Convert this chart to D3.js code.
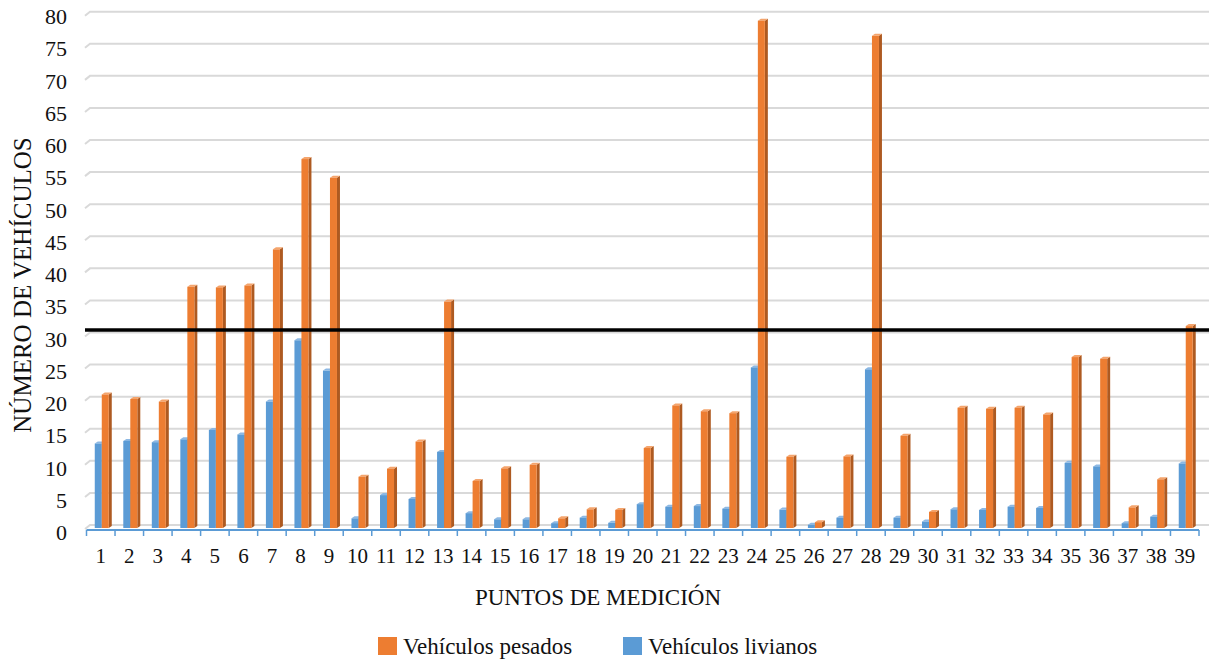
<!doctype html>
<html>
  <head>
    <script src="https://cdn.jsdelivr.net/npm/d3@7/dist/d3.min.js"></script>
    <style>
      body, html {
        margin: 0;
        background: #fff;
      }
      svg {
        display: block;
      }
    </style>
  </head>
  <body>
    <svg width="1209" height="664" font-family="Liberation Serif, Times New Roman, serif"></svg>
    <script>
      var puntos = d3.range(1, 40).map(String);
      var livianos = [13.1, 13.5, 13.3, 13.75, 15.2, 14.5, 19.6, 29.1, 24.4, 1.5,
                      5.1, 4.5, 11.8, 2.3, 1.35, 1.35, 0.75, 1.6, 0.8, 3.7,
                      3.3, 3.4, 3.0, 24.9, 2.85, 0.5, 1.6, 24.6, 1.6, 1.0,
                      2.9, 2.8, 3.3, 3.1, 10.1, 9.55, 0.75, 1.75, 10.0];
      var pesados = [20.7, 20.0, 19.6, 37.4, 37.3, 37.6, 43.2, 57.2, 54.3, 7.95,
                     9.2, 13.4, 35.1, 7.3, 9.25, 9.8, 1.5, 2.9, 2.8, 12.4,
                     19.0, 18.1, 17.8, 78.65, 11.05, 0.9, 11.1, 76.3, 14.3, 2.5,
                     18.65, 18.5, 18.65, 17.6, 26.5, 26.25, 3.2, 7.55, 31.3];
      var yTicks = d3.range(0, 81, 5);
      var limite = 30.7;
      var series = [
        {key: "livianos", name: "Vehículos livianos", values: livianos, front: "#5b9bd5", side: "#41719c", top: "#8db8e3"},
        {key: "pesados", name: "Vehículos pesados", values: pesados, front: "#ed7d31", side: "#ae5a21", top: "#f4a46c"}
      ];
      var FONT = "'Liberation Serif', 'Times New Roman', serif";

      var svg = d3.select("svg");

      var x = d3.scaleBand().domain(puntos).range([86.5, 1199]);
      var xSub = d3.scaleBand().domain(["livianos", "pesados"]).range([-6, 8]);
      var y = d3.scaleLinear().domain([0, 80]).range([528, 12]);
      var yWall = d3.scaleLinear().domain([0, 80]).range([525, 11.7]);

      // back wall gridlines
      svg.append("g").selectAll("path")
        .data(yTicks)
        .enter()
        .append("path")
          .attr("fill", "none")
          .attr("stroke", "#d9d9d9")
          .attr("stroke-width", 2)
          .attr("d", d => "M85," + (yWall(d) + 4) + "L90," + yWall(d) + "H1209");

      // y tick labels
      svg.append("g").selectAll("text")
        .data(yTicks)
        .enter()
        .append("text")
          .attr("x", 67)
          .attr("y", d => y(d) + 12)
          .attr("text-anchor", "end")
          .attr("font-family", FONT)
          .attr("font-size", 22)
          .attr("fill", "#111")
          .text(d => d);

      // 3d bars
      var dx = 3, dy = 2;
      series.forEach(function (s) {
        var g = svg.append("g");
        var w = xSub.bandwidth();
        puntos.forEach(function (p, i) {
          var x0 = x(p) + x.bandwidth() / 2 + xSub(s.key);
          var x1 = x0 + w;
          var top = y(s.values[i]);
          var base = y(0);
          g.append("polygon")
            .attr("points", [[x1, top], [x1 + dx, top - dy], [x1 + dx, base - dy], [x1, base]].join(" "))
            .attr("fill", s.side);
          g.append("polygon")
            .attr("points", [[x0, top], [x0 + dx, top - dy], [x1 + dx, top - dy], [x1, top]].join(" "))
            .attr("fill", s.top);
          g.append("rect")
            .attr("x", x0)
            .attr("y", top)
            .attr("width", w)
            .attr("height", base - top)
            .attr("fill", s.front);
        });
      });

      // x axis (blue) with ticks between categories
      var axisY = 530;
      svg.append("line")
        .attr("x1", x.range()[0]).attr("x2", x.range()[1])
        .attr("y1", axisY).attr("y2", axisY)
        .attr("stroke", "#5b9bd5").attr("stroke-width", 2);
      svg.append("g").selectAll("line")
        .data(puntos.concat(["end"]))
        .enter()
        .append("line")
          .attr("x1", d => d === "end" ? x.range()[1] : x(d))
          .attr("x2", d => d === "end" ? x.range()[1] : x(d))
          .attr("y1", axisY).attr("y2", axisY + 6)
          .attr("stroke", "#5b9bd5").attr("stroke-width", 1.5);

      svg.append("g").selectAll("text")
        .data(puntos)
        .enter()
        .append("text")
          .attr("x", d => x(d) + x.bandwidth() / 2)
          .attr("y", 563)
          .attr("text-anchor", "middle")
          .attr("font-family", FONT)
          .attr("font-size", 21)
          .attr("fill", "#111")
          .text(d => d);

      // limit line
      svg.append("line")
        .attr("x1", 85).attr("x2", 1209)
        .attr("y1", y(limite)).attr("y2", y(limite))
        .attr("stroke", "#000").attr("stroke-width", 3.5);

      // axis titles
      svg.append("text")
        .attr("x", 598).attr("y", 605)
        .attr("text-anchor", "middle")
        .attr("font-family", FONT)
        .attr("font-size", 23)
        .attr("fill", "#111")
        .text("PUNTOS DE MEDICIÓN");
      svg.append("text")
        .attr("transform", "translate(31,285) rotate(-90)")
        .attr("text-anchor", "middle")
        .attr("font-family", FONT)
        .attr("font-size", 25)
        .attr("fill", "#111")
        .text("NÚMERO DE VEHÍCULOS");

      // legend
      var legend = [series[1], series[0]];
      var lx = [378, 623];
      var lg = svg.append("g").selectAll("g")
        .data(legend)
        .enter()
        .append("g")
          .attr("transform", (d, i) => "translate(" + lx[i] + ",637)");
      lg.append("rect")
        .attr("width", 19).attr("height", 18)
        .attr("fill", d => d.front);
      lg.append("text")
        .attr("x", 25).attr("y", 17)
        .attr("font-family", FONT)
        .attr("font-size", 23)
        .attr("fill", "#111")
        .text(d => d.name);
    </script>
  </body>
</html>
